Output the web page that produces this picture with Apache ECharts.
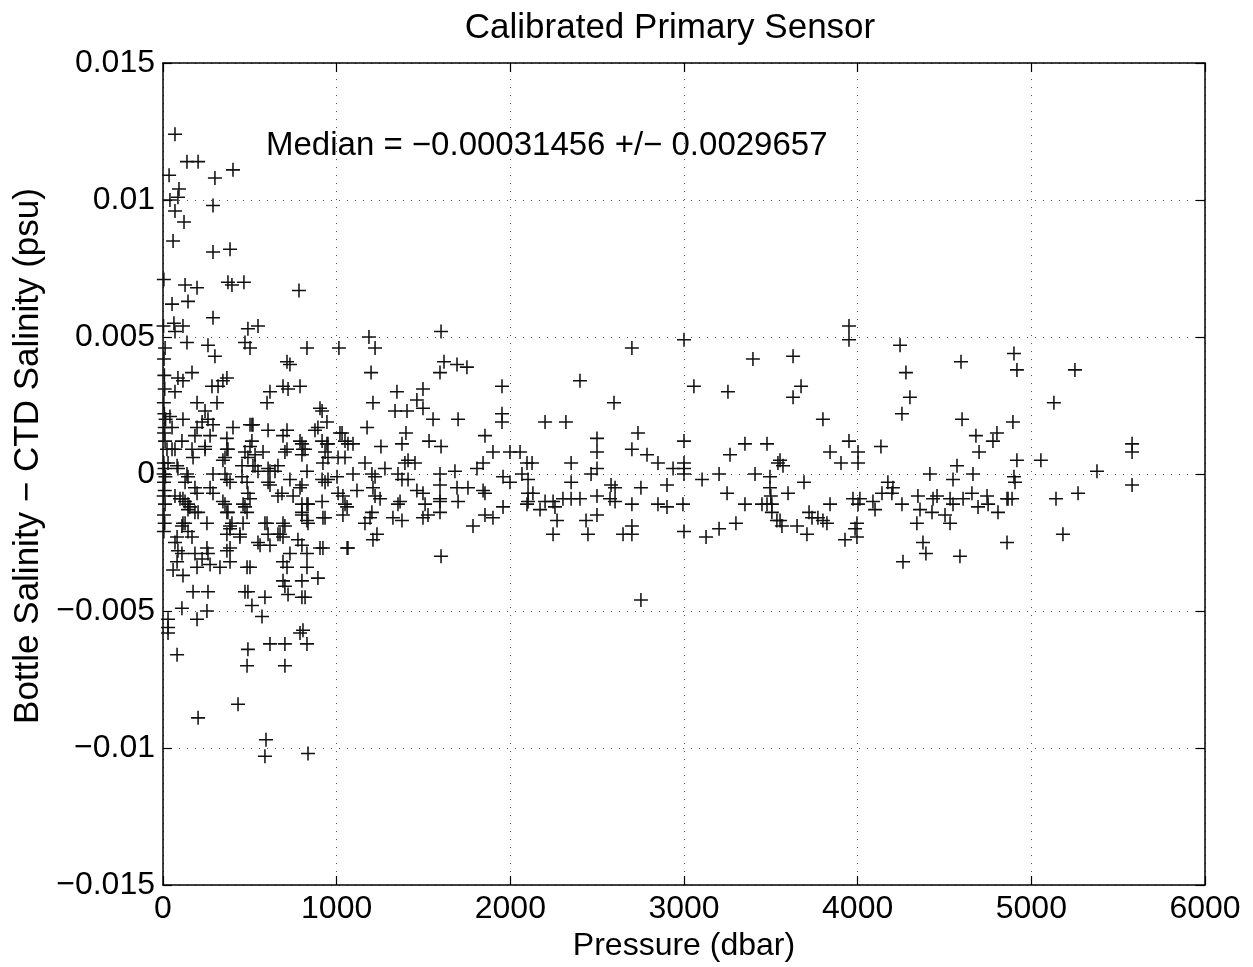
<!DOCTYPE html>
<html>
<head>
<meta charset="utf-8">
<script src="https://cdn.jsdelivr.net/npm/echarts@6/dist/echarts.min.js"></script>
<style>html,body{margin:0;padding:0;background:#fff;}#c{width:1253px;height:967px;}</style>
</head>
<body>
<div id="c"></div>
<script>
// Tick labels
const xTicks = [0, 1000, 2000, 3000, 4000, 5000, 6000];
const yTicks = [-0.015, -0.01, -0.005, 0, 0.005, 0.01, 0.015];

// [pressure (dbar), bottle - CTD salinity (psu)]
const surface0to300 = [
[69,0.0124],[138,0.0114],[202,0.0114],[35,0.0109],[92,0.0104],[86,0.0101],[40,0.0100],[288,0.0098],[69,0.0096],[121,0.0092],
[58,0.0085],[288,0.0081],[5,0.0071],[127,0.0069],[196,0.0068],[52,0.0062],[144,0.0063],[288,0.0057],[63,0.0055],[115,0.0054],
[3,0.0054],[69,0.0052],[138,0.0048],[259,0.0047],[12,0.0046],[299,0.0043],[6,0.0042],[167,0.0037],[86,0.0035],[115,0.0034],
[282,0.0032],[69,0.0030],[8,0.0036],[10,0.0031],[196,0.0026],[5,0.0026],[242,0.0023],[259,0.0020],[196,0.0017],[225,0.0019],
[115,0.0020],[40,0.0021],[8,0.0022],[15,0.0020],[10,0.0017],[271,0.0014],[184,0.0014],[109,0.0012],[6,0.0015],[12,0.0012],
[23,0.0009],[52,0.0009],[167,0.0009],[173,0.0006],[242,0.0010],[81,0.0003],[138,0.0000],[144,-0.0001],[288,0.0000],[5,0.0004],
[9,0.0002],[4,0.0000],[14,-0.0001],[6,-0.0003],[10,-0.0006],[4,-0.0008],[12,-0.0011],[6,-0.0015],[10,-0.0018],[5,-0.0021],
[184,-0.0005],[196,-0.0007],[271,-0.0005],[288,-0.0007],[69,-0.0008],[115,-0.0009],[144,-0.0011],[144,-0.0013],[184,-0.0014],[127,-0.0018],
[109,-0.0019],[144,-0.0021],[253,-0.0018],[69,-0.0025],[167,-0.0023],[86,-0.0028],[109,-0.0029],[184,-0.0029],[253,-0.0027],[259,-0.0029],
[81,-0.0032],[225,-0.0031],[271,-0.0033],[58,-0.0035],[115,-0.0037],[196,-0.0034],[173,-0.0043],[259,-0.0043],[109,-0.0049],[253,-0.0050],
[29,-0.0053],[196,-0.0053],[29,-0.0056],[29,-0.0058],[81,-0.0066],[202,-0.0089],[52,0.0017],[288,0.0018],[242,0.0009],[69,0.0009],
[29,0.0004],[86,0.0002],[127,-0.0003],[98,-0.0009],[127,-0.0010],[155,-0.0012],[202,-0.0014],[81,-0.0023],[115,-0.0018]
];

const upper300to1100 = [
[403,0.0111],[299,0.0108],[386,0.0082],[374,0.0070],[397,0.0069],[466,0.0070],[783,0.0067],[489,0.0053],[547,0.0054],[472,0.0048],
[501,0.0046],[829,0.0046],[1013,0.0046],[714,0.0041],[731,0.0040],[368,0.0035],[345,0.0034],[317,0.0032],[691,0.0032],[720,0.0031],
[789,0.0032],[616,0.0030],[599,0.0026],[311,0.0026],[916,0.0023],[944,0.0019],[892,0.0017],[403,0.0017],[512,0.0018],[605,0.0016],
[714,0.0016],[691,0.0014],[1031,0.0015],[875,0.0016],[368,0.0013],[368,0.0009],[512,0.0012],[501,0.0010],[800,0.0011],[806,0.0009],
[916,0.0012],[950,0.0011],[1065,0.0011],[472,0.0008],[530,0.0007],[714,0.0009],[800,0.0007],[933,0.0008],[950,0.0006],[1048,0.0006],
[357,0.0006],[455,0.0003],[518,0.0003],[605,0.0002],[662,0.0003],[357,0.0000],[368,-0.0002],[386,-0.0003],[455,-0.0001],[484,-0.0003],
[605,-0.0003],[616,-0.0004],[731,-0.0002],[789,-0.0005],[916,-0.0002],[933,-0.0003],[950,-0.0002],[1002,-0.0001],[1008,-0.0007],[1036,-0.0008],
[1048,-0.0011],[489,-0.0007],[501,-0.0009],[472,-0.0012],[685,-0.0007],[800,-0.0011],[835,-0.0011],[357,-0.0011],[368,-0.0014],[484,-0.0014],
[800,-0.0015],[921,-0.0016],[1036,-0.0015],[386,-0.0019],[461,-0.0018],[587,-0.0018],[829,-0.0017],[702,-0.0019],[674,-0.0022],[368,-0.0022],
[386,-0.0020],[443,-0.0023],[605,-0.0022],[616,-0.0026],[559,-0.0026],[777,-0.0024],[800,-0.0026],[835,-0.0018],[904,-0.0027],[921,-0.0027],
[1065,-0.0027],[368,-0.0028],[386,-0.0027],[731,-0.0029],[829,-0.0029],[328,-0.0034],[386,-0.0032],[484,-0.0034],[501,-0.0034],[691,-0.0032],
[714,-0.0034],[829,-0.0034],[892,-0.0038],[691,-0.0039],[702,-0.0041],[800,-0.0039],[472,-0.0043],[489,-0.0043],[587,-0.0045],[720,-0.0044],
[800,-0.0045],[818,-0.0045],[512,-0.0048],[570,-0.0052],[789,-0.0058],[806,-0.0057],[829,-0.0062],[616,-0.0062],[702,-0.0062],[489,-0.0064],
[484,-0.0070],[702,-0.0070],[432,-0.0084],[593,-0.0097],[587,-0.0103],[835,-0.0102],
[904,0.0024],[518,0.0018],[1019,0.0015],[789,0.0012],[944,0.0011],[1048,0.0012],[702,0.0008],[818,0.0009],[576,0.0008],[1008,0.0006],
[530,0.0003],[547,0.0001],[616,0.0001],[645,0.0001],[829,0.0001],[921,0.0004],[662,-0.0008],[749,-0.0008],[829,-0.0011],[916,-0.0010],
[800,-0.0014],[933,-0.0016],[599,-0.0018],[691,-0.0018],[662,-0.0022],[691,-0.0023],[547,-0.0025],[800,-0.0004],[1060,-0.0012],
[345,0.0005],[489,0.0006],[374,0.0009],[345,-0.0010],[461,-0.0011],[374,-0.0014],[397,-0.0018],[443,-0.0022],[501,0.0018]
];

const mid1100to2200 = [
[1186,0.0050],[1221,0.0046],[1601,0.0052],[1618,0.0041],[1595,0.0037],[1693,0.0040],[1750,0.0039],[1198,0.0037],[1347,0.0030],[1497,0.0031],
[1462,0.0027],[1497,0.0024],[1209,0.0026],[1952,0.0032],[1336,0.0023],[1405,0.0023],[1555,0.0020],[1699,0.0020],[1952,0.0022],[1952,0.0019],
[1175,0.0017],[1399,0.0015],[1854,0.0014],[1094,0.0011],[1255,0.0010],[1376,0.0011],[1532,0.0012],[1601,0.0010],[1900,0.0008],[1998,0.0008],
[2056,0.0008],[2096,0.0004],[1163,0.0004],[1278,0.0002],[1393,0.0004],[1411,0.0005],[1451,0.0004],[1094,0.0000],[1203,0.0000],[1221,-0.0001],
[1353,0.0000],[1376,-0.0002],[1411,-0.0002],[1595,0.0000],[1595,-0.0004],[1681,0.0001],[1693,-0.0005],[1808,0.0002],[1843,0.0004],[1958,-0.0001],
[1998,-0.0003],[2067,0.0000],[2102,-0.0002],[2102,-0.0007],[1756,-0.0005],[1117,-0.0006],[1209,-0.0005],[1221,-0.0008],[1250,-0.0009],[1462,-0.0006],
[1497,-0.0007],[1509,-0.0011],[1595,-0.0009],[1595,-0.0010],[1843,-0.0006],[1854,-0.0007],[1699,-0.0010],[1353,-0.0011],[1365,-0.0010],[2102,-0.0010],
[2096,-0.0011],[1958,-0.0012],[1203,-0.0014],[1192,-0.0016],[1324,-0.0016],[1376,-0.0017],[1497,-0.0016],[1526,-0.0015],[1595,-0.0014],[1854,-0.0015],
[1900,-0.0016],[1163,-0.0018],[1785,-0.0019],[1232,-0.0022],[1209,-0.0024],[1060,-0.0027],[1601,-0.0030],[2125,0.0004],[2200,0.0019],[2171,-0.0013],
[2130,-0.0007]
];

const deep2200to3500 = [
[3000,0.0049],[2700,0.0046],[3397,0.0042],[2401,0.0034],[3057,0.0032],[3253,0.0030],[2597,0.0026],[2320,0.0019],[2499,0.0013],[2499,0.0008],
[2499,0.0002],[2735,0.0015],[3000,0.0012],[2700,0.0009],[2787,0.0007],[2850,0.0004],[2937,0.0002],[3000,0.0004],[3000,0.0002],[3000,0.0000],
[2350,0.0004],[2465,0.0000],[3265,0.0007],[3351,0.0011],[3478,0.0011],[3104,-0.0002],[3202,0.0000],[3409,0.0000],[2350,-0.0003],[2580,-0.0004],
[2603,-0.0005],[2752,-0.0005],[2902,-0.0004],[3495,-0.0001],[3495,-0.0005],[3500,-0.0008],[3506,-0.0011],[3506,-0.0014],[2200,-0.0010],[2246,-0.0010],
[2257,-0.0012],[2303,-0.0009],[2350,-0.0009],[2401,-0.0009],[2499,-0.0008],[2574,-0.0009],[2603,-0.0010],[2700,-0.0011],[2850,-0.0011],[2902,-0.0012],
[2994,-0.0011],[3248,-0.0007],[3351,-0.0011],[3449,-0.0011],[2269,-0.0017],[2436,-0.0017],[2499,-0.0015],[2246,-0.0022],[2447,-0.0022],[2649,-0.0022],
[2700,-0.0019],[2700,-0.0022],[3000,-0.0021],[3127,-0.0023],[3202,-0.0020],[3299,-0.0018],[2752,-0.0046],[3478,-0.0011]
];

const deep3500to6000 = [
[3541,0.0004],[3535,-0.0017],[3950,0.0054],[3950,0.0049],[4244,0.0047],[3628,0.0043],[4595,0.0041],[3674,0.0032],[3628,0.0028],[4278,0.0037],
[4301,0.0028],[4255,0.0022],[3800,0.0020],[4601,0.0020],[4681,0.0014],[4802,0.0015],[4779,0.0012],[4699,0.0008],[3950,0.0012],[3841,0.0008],
[4002,0.0008],[4002,0.0004],[3904,0.0004],[4134,0.0010],[3553,0.0005],[3570,0.0003],[4572,0.0003],[4416,0.0000],[4664,0.0000],[4549,-0.0002],
[3691,-0.0003],[3599,-0.0007],[3841,-0.0011],[4174,-0.0003],[4203,-0.0005],[4197,-0.0007],[4140,-0.0007],[3973,-0.0009],[4013,-0.0009],[4002,-0.0011],
[4088,-0.0010],[4100,-0.0013],[4255,-0.0011],[4347,-0.0008],[4359,-0.0013],[4434,-0.0009],[4457,-0.0008],[4532,-0.0009],[4549,-0.0011],[4607,-0.0009],
[4658,-0.0007],[4745,-0.0008],[4751,-0.0011],[4693,-0.0012],[4808,-0.0014],[4860,-0.0009],[3720,-0.0014],[3771,-0.0016],[3800,-0.0017],[3823,-0.0018],
[3737,-0.0016],[3553,-0.0017],[3564,-0.0019],[3651,-0.0019],[3708,-0.0022],[3996,-0.0018],[3985,-0.0020],[3996,-0.0023],[3927,-0.0024],[4341,-0.0018],
[4428,-0.0014],[4503,-0.0015],[4532,-0.0018],[4376,-0.0025],[4393,-0.0029],[4261,-0.0032],[4589,-0.0030],[4860,-0.0025],[4900,0.0044],[4917,0.0038],
[5251,0.0038],[5130,0.0026],[4894,0.0019],[5580,0.0011],[5580,0.0008],[4917,0.0005],[5055,0.0005],[5378,0.0001],[4900,-0.0001],[4906,-0.0003],
[5580,-0.0004],[5269,-0.0007],[5142,-0.0009],[4866,-0.0009],[4889,-0.0009],[5182,-0.0022]
];

const titleText = 'Calibrated Primary Sensor';
const xName = 'Pressure (dbar)';
const yName = 'Bottle Salinity \u2212 CTD Salinity (psu)';
const medianText = 'Median = \u22120.00031456 +/\u2212 0.0029657';

const allPoints = [].concat(surface0to300, upper300to1100, mid1100to2200, deep2200to3500, deep3500to6000);

const FONT = '"Liberation Sans", Arial, Helvetica, sans-serif';
const FS = 32;
const plus = 'path://M0 4.45H10V5.55H0Z M4.45 0H5.55V10H4.45Z';

function fmtY(v) {
  const r = Math.round(v * 1000) / 1000;
  if (r === 0) return '0';
  return (r < 0 ? '\u2212' : '') + String(Math.abs(r));
}

const chart = echarts.init(document.getElementById('c'), null, {renderer: 'canvas'});
const gridLine = {show: true, lineStyle: {color: '#555', width: 1, type: [1, 7]}};
const axLine = {show: true, onZero: false, lineStyle: {color: '#000', width: 1.5}};
const tick = {show: true, inside: true, length: 9, lineStyle: {color: '#000', width: 1.2}};

chart.setOption({
  animation: false,
  backgroundColor: '#fff',
  grid: {left: 163, right: 48, top: 63, bottom: 82, containLabel: false},
  xAxis: [
    {type: 'value', min: xTicks[0], max: xTicks[xTicks.length - 1], interval: 1000, position: 'bottom',
     axisLine: axLine, axisTick: tick, splitLine: gridLine,
     axisLabel: {color: '#000', fontSize: FS, fontFamily: FONT, margin: 8, formatter: v => String(v)},
     name: xName, nameLocation: 'middle', nameGap: 42,
     nameTextStyle: {color: '#000', fontSize: FS, fontFamily: FONT}},
    {type: 'value', min: xTicks[0], max: xTicks[xTicks.length - 1], interval: 1000, position: 'top',
     axisLine: axLine, axisTick: tick, splitLine: {show: false}, axisLabel: {show: false}}
  ],
  yAxis: [
    {type: 'value', min: yTicks[0], max: yTicks[yTicks.length - 1], interval: 0.005, position: 'left',
     axisLine: axLine, axisTick: tick, splitLine: gridLine,
     axisLabel: {color: '#000', fontSize: FS, fontFamily: FONT, margin: 8, formatter: fmtY}},
    {type: 'value', min: yTicks[0], max: yTicks[yTicks.length - 1], interval: 0.005, position: 'right',
     axisLine: axLine, axisTick: tick, splitLine: {show: false}, axisLabel: {show: false}}
  ],
  graphic: [
    {type: 'text', x: 670, y: 28, style: {text: titleText, fill: '#000', font: '35px ' + FONT, textAlign: 'center', textVerticalAlign: 'middle'}},
    {type: 'text', x: 266, y: 146, style: {text: medianText, fill: '#000', font: '33px ' + FONT, textAlign: 'left', textVerticalAlign: 'middle'}},
    {type: 'text', x: 28, y: 456, rotation: Math.PI / 2, style: {text: yName, fill: '#000', font: '35px ' + FONT, textAlign: 'center', textVerticalAlign: 'middle'}}
  ],
  series: [{
    type: 'scatter',
    xAxisIndex: 0, yAxisIndex: 0,
    data: allPoints,
    symbol: plus,
    symbolSize: 14,
    itemStyle: {color: '#111', opacity: 1},
    silent: true
  }]
});
</script>
</body>
</html>
